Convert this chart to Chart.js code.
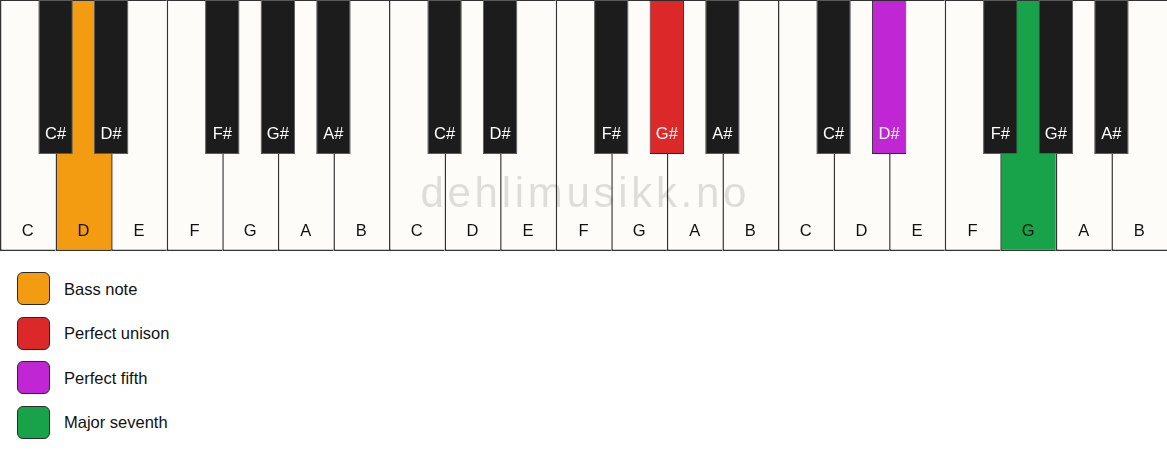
<!DOCTYPE html>
<html>
<head>
<meta charset="utf-8">
<script src="https://cdn.jsdelivr.net/npm/chart.js@4.4.1/dist/chart.umd.min.js"></script>
<style>
  body { margin: 0; background: #fff; font-family: "Liberation Sans", Arial, sans-serif; }
  #wrap { position: relative; width: 1167px; height: 461px; }
  #keys { position: absolute; left: 0; top: 0; }
  .item { position: absolute; left: 17px; height: 33px; }
  .sw { position: absolute; left: 0; top: 0; width: 31px; height: 31px; border: 1.3px solid #2a2a2a; border-radius: 6px; }
  .lbl { position: absolute; left: 47px; top: 7.5px; font-size: 16.5px; color: #111; white-space: nowrap; }
</style>
</head>
<body>
<div id="wrap">
  <canvas id="keys" width="1167" height="251"></canvas>
  <div id="legend"></div>
</div>
<script>
// keyboard: three octaves, x axis counts white keys
const whiteNotes = ['C', 'D', 'E', 'F', 'G', 'A', 'B',
                    'C', 'D', 'E', 'F', 'G', 'A', 'B',
                    'C', 'D', 'E', 'F', 'G', 'A', 'B']
const blackNotes = ['C#', 'D#', 'F#', 'G#', 'A#',
                    'C#', 'D#', 'F#', 'G#', 'A#',
                    'C#', 'D#', 'F#', 'G#', 'A#']
// black keys sit on the boundary between two white keys
const blackAt = [1, 2, 4, 5, 6, 8, 9, 11, 12, 13, 15, 16, 18, 19, 20]
const blackLength = 0.386   // black keys reach down to this y (0 = bottom, 1 = top)

// marked notes (octave is 0, 1 or 2)
const legendLabels = ['Bass note', 'Perfect unison', 'Perfect fifth', 'Major seventh']
const markNotes = ['D', 'G#', 'D#', 'G']
const markOctaves = [0, 1, 2, 2]
const markColors = ['#F39C12', '#DC2828', '#C026D3', '#18A34A']

const WHITE = '#FDFCF8'
const BLACK = '#1C1C1C'

function markFor(note, octave) {
    for (let i = 0; i < markNotes.length; i++) {
        if (markNotes[i] === note && markOctaves[i] === octave) return markColors[i]
    }
    return null
}

const whiteColors = whiteNotes.map((n, i) => markFor(n, Math.floor(i / 7)) || WHITE)
const blackColors = blackNotes.map((n, i) => markFor(n, Math.floor(i / 5)) || BLACK)
const blackBorders = blackNotes.map((n, i) => markFor(n, Math.floor(i / 5)) ? '#2a2a2a' : '#5a5a5a')

const keyLabels = {
    id: 'keyLabels',
    afterDatasetsDraw(chart) {
        const ctx = chart.ctx
        const x = chart.scales.x
        const y = chart.scales.y
        ctx.save()
        // watermark
        ctx.font = '42px "Liberation Sans", Arial, sans-serif'
        ctx.fillStyle = 'rgba(0,0,0,0.12)'
        ctx.textAlign = 'center'
        ctx.textBaseline = 'alphabetic'
        ctx.letterSpacing = '3.7px'
        ctx.fillText('dehlimusikk.no', x.getPixelForValue(10.5) + 1.8, y.getPixelForValue(0.177))
        ctx.letterSpacing = '0px'

        ctx.font = '16.5px "Liberation Sans", Arial, sans-serif'
        ctx.textBaseline = 'middle'
        ctx.fillStyle = '#111'
        whiteNotes.forEach((n, i) => {
            ctx.fillText(n, x.getPixelForValue(i + 0.5), y.getPixelForValue(0.076))
        })
        ctx.fillStyle = '#fff'
        blackNotes.forEach((n, i) => {
            ctx.fillText(n, x.getPixelForValue(blackAt[i]), y.getPixelForValue(0.466))
        })
        ctx.restore()
    }
}

new Chart(document.getElementById('keys'), {
    type: 'bar',
    data: {
        datasets: [{
            label: 'white',
            data: whiteNotes.map((n, i) => ({ x: i + 0.5, y: [0, 1] })),
            backgroundColor: whiteColors,
            borderColor: '#333',
            borderWidth: { left: 1.5, right: 0, top: 1, bottom: 1.5 },
            borderSkipped: false,
            barPercentage: 2,
            categoryPercentage: 1,
            grouped: false,
            order: 1,
            clip: false
        }, {
            label: 'black',
            data: blackAt.map(p => ({ x: p, y: [blackLength, 1] })),
            backgroundColor: blackColors,
            borderColor: blackBorders,
            borderWidth: 1,
            borderSkipped: false,
            barPercentage: 1.24,
            categoryPercentage: 1,
            grouped: false,
            order: 0,
            clip: false
        }]
    },
    options: {
        responsive: false,
        animation: false,
        devicePixelRatio: 1,
        layout: { padding: 0 },
        plugins: { legend: { display: false }, tooltip: { enabled: false } },
        scales: {
            x: { type: 'linear', min: 0, max: 21, offset: false, display: false, ticks: { stepSize: 1 } },
            y: { min: 0, max: 1, display: false }
        }
    },
    plugins: [keyLabels]
})

// legend under the keyboard
const legend = document.getElementById('legend')
legendLabels.forEach((l, i) => {
    const item = document.createElement('div')
    item.className = 'item'
    item.style.top = (272 + i * 44.5) + 'px'
    item.innerHTML = '<div class="sw" style="background:' + markColors[i] + '"></div><div class="lbl">' + l + '</div>'
    legend.appendChild(item)
})
</script>
</body>
</html>
